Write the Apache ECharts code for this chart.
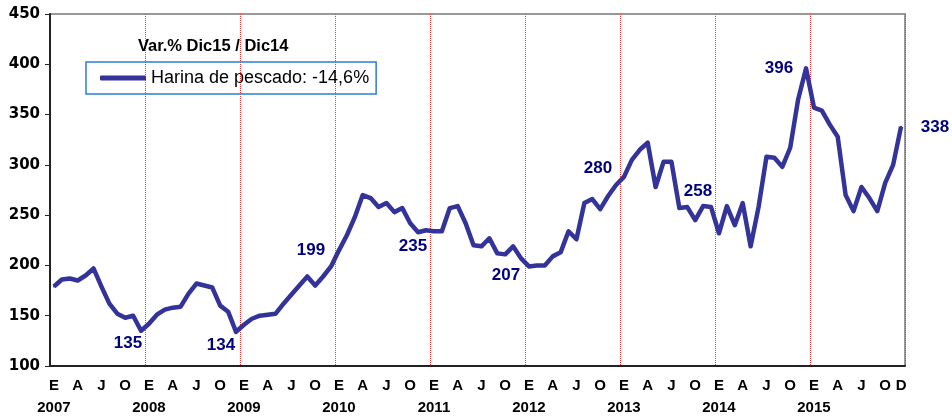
<!DOCTYPE html>
<html>
<head>
<meta charset="utf-8">
<script src="https://cdn.jsdelivr.net/npm/echarts@6/dist/echarts.min.js"></script>
<style>
  html, body { margin: 0; padding: 0; background: #fff; }
  #chart { width: 952px; height: 419px; }
</style>
</head>
<body>
<div id="chart"></div>
<script>
  // meses y años del eje x
  const months = ['E', 'F', 'M', 'A', 'M', 'J', 'J', 'A', 'S', 'O', 'N', 'D']
  const years = [2007, 2008, 2009, 2010, 2011, 2012, 2013, 2014, 2015]
  const yTicks = [100, 150, 200, 250, 300, 350, 400, 450]

  const seriesName = 'Harina de pescado: -14,6%'
  const titleText = 'Var.% Dic15 / Dic14'

  // índice de harina de pescado, ene-2007 a dic-2015
  const v2007 = [179, 186, 187, 185, 190, 197, 179, 162, 152, 148, 150, 135]
  const v2008 = [142, 151, 156, 158, 159, 172, 182, 180, 178, 160, 154, 134]
  const v2009 = [141, 147, 150, 151, 152, 162, 171, 180, 189, 180, 189, 199]
  const v2010 = [215, 230, 248, 270, 267, 258, 262, 253, 257, 242, 233, 235]
  const v2011 = [234, 234, 257, 259, 242, 220, 219, 227, 212, 211, 219, 207]
  const v2012 = [199, 200, 200, 209, 213, 234, 226, 262, 266, 256, 269, 280]
  const v2013 = [288, 305, 315, 322, 278, 303, 303, 257, 258, 245, 259, 258]
  const v2014 = [232, 259, 240, 262, 219, 258, 308, 307, 298, 317, 365, 396]
  const v2015 = [357, 354, 340, 328, 270, 254, 278, 267, 254, 282, 300, 338]

  const values = [].concat(v2007, v2008, v2009, v2010, v2011, v2012, v2013, v2014, v2015)
  const categories = []
  years.forEach(y => months.forEach((m, i) => categories.push(i === 0 ? m + '\n' + y : m)))

  // etiquetas de diciembre: desplazamiento respecto al punto
  const labelOffsets = {
    11: [-13, 13], 23: [-15, 14], 35: [-20, -16], 47: [-13, 16], 59: [-15, 17],
    71: [-18, -17], 83: [-13, -16], 95: [-27, 0], 107: [34, 1],
  }

  const seriesData = values.map((v, i) => labelOffsets[i]
    ? { value: v, label: { show: true, position: 'inside', offset: labelOffsets[i] } }
    : v)

  const chart = echarts.init(document.getElementById('chart'))
  chart.setOption({
    backgroundColor: '#fff',
    animation: false,
    title: {
      text: titleText, left: 138, top: 38, padding: 0,
      textStyle: { fontFamily: '"Liberation Sans", Arial', fontWeight: 'bold', fontSize: 16.5, color: '#000' },
    },
    legend: {
      data: [seriesName], left: 86, top: 62, padding: [7, 7, 7, 14],
      icon: 'roundRect', itemWidth: 46, itemHeight: 5, itemGap: 0,
      borderColor: '#2a7fd0', borderWidth: 1.5,
      textStyle: { fontFamily: '"Liberation Sans", Arial', fontSize: 18, color: '#000' },
    },
    grid: { left: 50, right: 47, top: 14, bottom: 53, show: true, borderColor: '#999', borderWidth: 2 },
    xAxis: {
      type: 'category',
      data: categories,
      boundaryGap: true,
      axisLine: { lineStyle: { color: '#222', width: 2 } },
      axisTick: { show: false },
      axisLabel: {
        interval: i => i % 3 === 0 || i === values.length - 1,
        margin: 9, color: '#000', fontFamily: '"Liberation Sans", Arial', fontWeight: 'bold', fontSize: 15, lineHeight: 22,
      },
      splitLine: { show: true, interval: i => i > 0 && i % 12 === 0, lineStyle: { color: '#ff3030', type: [1, 1], width: 1 } },
    },
    yAxis: {
      type: 'value',
      min: yTicks[0], max: yTicks[yTicks.length - 1], interval: 50,
      axisLine: { show: true, lineStyle: { color: '#222', width: 2 } },
      axisTick: { show: true, length: 5, lineStyle: { color: '#222' } },
      axisLabel: { margin: 10, color: '#000', fontFamily: '"DejaVu Sans"', fontWeight: 'bold', fontSize: 15 },
      splitLine: { show: false },
    },
    series: [{
      name: seriesName,
      type: 'line',
      data: seriesData,
      symbol: 'circle',
      symbolSize: 2,
      showSymbol: true,
      color: '#333399',
      itemStyle: { color: '#333399', borderWidth: 0 },
      lineStyle: { width: 4.5, color: '#333399', join: 'round' },
      label: { color: '#000080', fontFamily: '"Liberation Sans", Arial', fontWeight: 'bold', fontSize: 17 },
    }],
  })
</script>
</body>
</html>
